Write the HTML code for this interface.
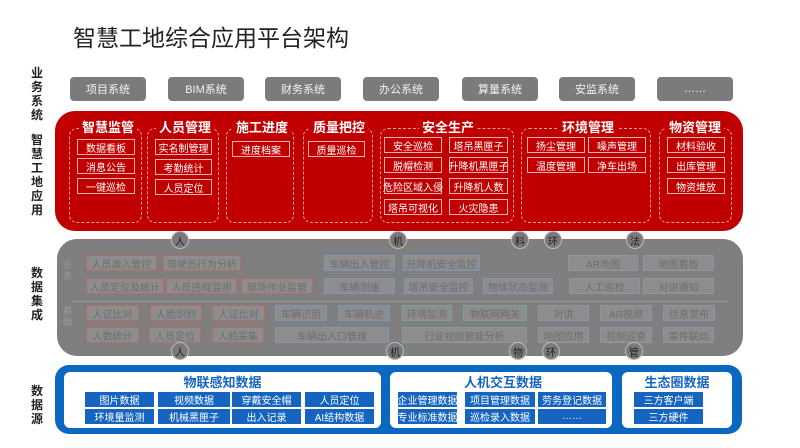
<!DOCTYPE html>
<html><head><meta charset="utf-8"><style>
*{margin:0;padding:0;box-sizing:border-box}
body{width:800px;height:448px;background:#fff;position:relative;overflow:hidden;font-family:"Liberation Sans","Noto Sans CJK SC",sans-serif}
.a{position:absolute}
.t{display:flex;align-items:center;justify-content:center;white-space:nowrap}
.sys{background:#7b7b7b;color:#f2f2f2;border-radius:4px;font-size:11px;top:77px;height:24px;width:76px}
.lbl{font-weight:bold;font-size:12px;color:#222;width:14px;line-height:14px;text-align:center;left:30px}
.grp{border:1px dashed #f0a0a0;border-radius:8px;top:128px;height:95px}
.gt{color:#fff;font-weight:bold;font-size:13px;background:#c00000;padding:0 3px;top:117px;height:18px}
.ri{border:1px solid #f2b0b0;color:#fff;font-size:10px;height:16px}
.gi{background:#8d8d8d;color:#6e6e6e;font-size:10px;height:16px;border:1px solid}
.r{border-color:#b56b6b}.bl{border-color:#7a97b5}.g{border-color:#7aa58a}.p{border-color:#9b8ca8}
.c{width:18px;height:18px;border-radius:50%;background:#7a7a7a;border:1.5px solid #bbb;color:#222;font-size:10px}
.bi{background:#1565c0;color:#fff;font-size:10px;height:15px}
.bt{color:#1565c0;font-weight:bold;font-size:13px}
</style></head><body>
<div class="a" style="left:73px;top:19px;font-size:23px;color:#222;letter-spacing:0px">智慧工地综合应用平台架构</div>

<div class="a lbl" style="top:66px">业务系统</div>
<div class="a lbl" style="top:133px">智慧工地应用</div>
<div class="a lbl" style="top:266px">数据集成</div>
<div class="a lbl" style="top:384px">数据源</div>

<div class="a t sys" style="left:70px">项目系统</div>
<div class="a t sys" style="left:168px">BIM系统</div>
<div class="a t sys" style="left:265px">财务系统</div>
<div class="a t sys" style="left:363px">办公系统</div>
<div class="a t sys" style="left:462px">算量系统</div>
<div class="a t sys" style="left:559px">安监系统</div>
<div class="a t sys" style="left:657px">……</div>

<!-- red panel -->
<div class="a" style="left:55px;top:111px;width:688px;height:120px;background:#c00000;border-radius:20px"></div>
<div class="a grp" style="left:69px;width:73px"></div>
<div class="a grp" style="left:147px;width:72px"></div>
<div class="a grp" style="left:226px;width:68px"></div>
<div class="a grp" style="left:303px;width:70px"></div>
<div class="a grp" style="left:380px;width:134px"></div>
<div class="a grp" style="left:521px;width:130px"></div>
<div class="a grp" style="left:659px;width:73px"></div>
<div class="a t gt" style="left:79px">智慧监管</div>
<div class="a t gt" style="left:156px">人员管理</div>
<div class="a t gt" style="left:233px">施工进度</div>
<div class="a t gt" style="left:310px">质量把控</div>
<div class="a t gt" style="left:419px">安全生产</div>
<div class="a t gt" style="left:559px">环境管理</div>
<div class="a t gt" style="left:666px">物资管理</div>

<div class="a t ri" style="left:77px;top:139px;width:58px">数据看板</div>
<div class="a t ri" style="left:77px;top:158px;width:58px">消息公告</div>
<div class="a t ri" style="left:77px;top:178px;width:58px">一键巡检</div>
<div class="a t ri" style="left:155px;top:139px;width:57px">实名制管理</div>
<div class="a t ri" style="left:155px;top:159px;width:57px">考勤统计</div>
<div class="a t ri" style="left:155px;top:179px;width:57px">人员定位</div>
<div class="a t ri" style="left:232px;top:141px;width:58px">进度档案</div>
<div class="a t ri" style="left:308px;top:141px;width:57px">质量巡检</div>

<div class="a t ri" style="left:384px;top:137px;width:58px">安全巡检</div>
<div class="a t ri" style="left:449px;top:137px;width:59px">塔吊黑匣子</div>
<div class="a t ri" style="left:384px;top:157px;width:58px">脱帽检测</div>
<div class="a t ri" style="left:449px;top:157px;width:59px">升降机黑匣子</div>
<div class="a t ri" style="left:384px;top:178px;width:58px">危险区域入侵</div>
<div class="a t ri" style="left:449px;top:178px;width:59px">升降机人数</div>
<div class="a t ri" style="left:384px;top:199px;width:58px">塔吊可视化</div>
<div class="a t ri" style="left:449px;top:199px;width:59px">火灾隐患</div>

<div class="a t ri" style="left:527px;top:137px;width:58px">扬尘管理</div>
<div class="a t ri" style="left:588px;top:137px;width:58px">噪声管理</div>
<div class="a t ri" style="left:527px;top:157px;width:58px">温度管理</div>
<div class="a t ri" style="left:588px;top:157px;width:58px">净车出场</div>
<div class="a t ri" style="left:667px;top:137px;width:58px">材料验收</div>
<div class="a t ri" style="left:667px;top:157px;width:58px">出库管理</div>
<div class="a t ri" style="left:667px;top:178px;width:58px">物资堆放</div>

<!-- gray panel -->
<div class="a" style="left:57px;top:239px;width:686px;height:117px;background:#7f7f7f;border-radius:20px"></div>
<div class="a" style="left:72px;top:301px;width:656px;height:1px;background:#999"></div>
<div class="a" style="left:63px;top:260px;width:12px;font-size:9px;color:#9a9a9a;line-height:11px">业<br>务</div>
<div class="a" style="left:63px;top:306px;width:12px;font-size:9px;color:#9a9a9a;line-height:11px">基<br>础</div>

<div class="a t gi r" style="left:86px;top:255px;width:71px">人员准入管控</div>
<div class="a t gi r" style="left:163px;top:255px;width:78px">驾驶员行为分析</div>
<div class="a t gi bl" style="left:324px;top:255px;width:71px">车辆出入管控</div>
<div class="a t gi bl" style="left:403px;top:255px;width:77px">升降机安全监控</div>
<div class="a t gi p" style="left:568px;top:255px;width:70px">AR地图</div>
<div class="a t gi p" style="left:643px;top:255px;width:71px">地图看板</div>

<div class="a t gi r" style="left:86px;top:278px;width:78px">人员定位及统计</div>
<div class="a t gi r" style="left:166px;top:278px;width:71px">人员违规监测</div>
<div class="a t gi r" style="left:241px;top:278px;width:72px">现场作业监管</div>
<div class="a t gi bl" style="left:324px;top:278px;width:71px">车辆测速</div>
<div class="a t gi bl" style="left:404px;top:278px;width:69px">塔吊安全监控</div>
<div class="a t gi bl" style="left:483px;top:278px;width:70px">物体状态监测</div>
<div class="a t gi p" style="left:569px;top:278px;width:71px">人工巡检</div>
<div class="a t gi p" style="left:643px;top:278px;width:71px">对讲通知</div>

<div class="a t gi r" style="left:86px;top:305px;width:53px">人证比对</div>
<div class="a t gi r" style="left:150px;top:305px;width:52px">人脸识别</div>
<div class="a t gi r" style="left:212px;top:305px;width:53px">人证比对</div>
<div class="a t gi bl" style="left:275px;top:305px;width:52px">车辆识别</div>
<div class="a t gi bl" style="left:338px;top:305px;width:52px">车辆轨迹</div>
<div class="a t gi g" style="left:402px;top:305px;width:50px">环境监测</div>
<div class="a t gi g" style="left:463px;top:305px;width:64px">物联网网关</div>
<div class="a t gi p" style="left:538px;top:305px;width:51px">对讲</div>
<div class="a t gi p" style="left:600px;top:305px;width:52px">AR视频</div>
<div class="a t gi p" style="left:663px;top:305px;width:52px">信息发布</div>

<div class="a t gi r" style="left:86px;top:327px;width:53px">人数统计</div>
<div class="a t gi r" style="left:149px;top:327px;width:52px">人员定位</div>
<div class="a t gi r" style="left:212px;top:327px;width:52px">人脸采集</div>
<div class="a t gi bl" style="left:275px;top:327px;width:114px">车辆出入口管理</div>
<div class="a t gi g" style="left:402px;top:327px;width:125px">行业视频智能分析</div>
<div class="a t gi p" style="left:538px;top:327px;width:51px">地图应用</div>
<div class="a t gi p" style="left:600px;top:327px;width:52px">视频巡查</div>
<div class="a t gi p" style="left:663px;top:327px;width:51px">事件联动</div>

<div class="a t c" style="left:171px;top:231px">人</div>
<div class="a t c" style="left:389px;top:231px">机</div>
<div class="a t c" style="left:511px;top:231px">料</div>
<div class="a t c" style="left:544px;top:231px">环</div>
<div class="a t c" style="left:626px;top:231px">法</div>
<div class="a t c" style="left:171px;top:342px">人</div>
<div class="a t c" style="left:386px;top:342px">机</div>
<div class="a t c" style="left:509px;top:342px">物</div>
<div class="a t c" style="left:542px;top:342px">环</div>
<div class="a t c" style="left:625px;top:342px">管</div>

<!-- blue panel -->
<div class="a" style="left:55px;top:365px;width:687px;height:69px;background:#0a68c0;border-radius:14px"></div>
<div class="a" style="left:64px;top:372px;width:317px;height:56px;background:#fff;border-radius:6px"></div>
<div class="a" style="left:390px;top:372px;width:222px;height:56px;background:#fff;border-radius:6px"></div>
<div class="a" style="left:622px;top:372px;width:110px;height:56px;background:#fff;border-radius:6px"></div>
<div class="a t bt" style="left:64px;top:373px;width:317px;height:16px">物联感知数据</div>
<div class="a t bt" style="left:400px;top:373px;width:206px;height:16px">人机交互数据</div>
<div class="a t bt" style="left:622px;top:373px;width:110px;height:16px">生态圈数据</div>

<div class="a t bi" style="left:85px;top:392px;width:69px">图片数据</div>
<div class="a t bi" style="left:158px;top:392px;width:72px">视频数据</div>
<div class="a t bi" style="left:232px;top:392px;width:69px">穿戴安全帽</div>
<div class="a t bi" style="left:305px;top:392px;width:69px">人员定位</div>
<div class="a t bi" style="left:85px;top:409px;width:69px">环境量监测</div>
<div class="a t bi" style="left:158px;top:409px;width:72px">机械黑匣子</div>
<div class="a t bi" style="left:232px;top:409px;width:69px">出入记录</div>
<div class="a t bi" style="left:305px;top:409px;width:69px">AI结构数据</div>

<div class="a t bi" style="left:398px;top:392px;width:59px">企业管理数据</div>
<div class="a t bi" style="left:465px;top:392px;width:70px">项目管理数据</div>
<div class="a t bi" style="left:538px;top:392px;width:68px">劳务登记数据</div>
<div class="a t bi" style="left:398px;top:409px;width:59px">专业标准数据</div>
<div class="a t bi" style="left:465px;top:409px;width:70px">巡检录入数据</div>
<div class="a t bi" style="left:538px;top:409px;width:68px">……</div>

<div class="a t bi" style="left:634px;top:392px;width:69px">三方客户端</div>
<div class="a t bi" style="left:634px;top:409px;width:69px">三方硬件</div>
</body></html>
